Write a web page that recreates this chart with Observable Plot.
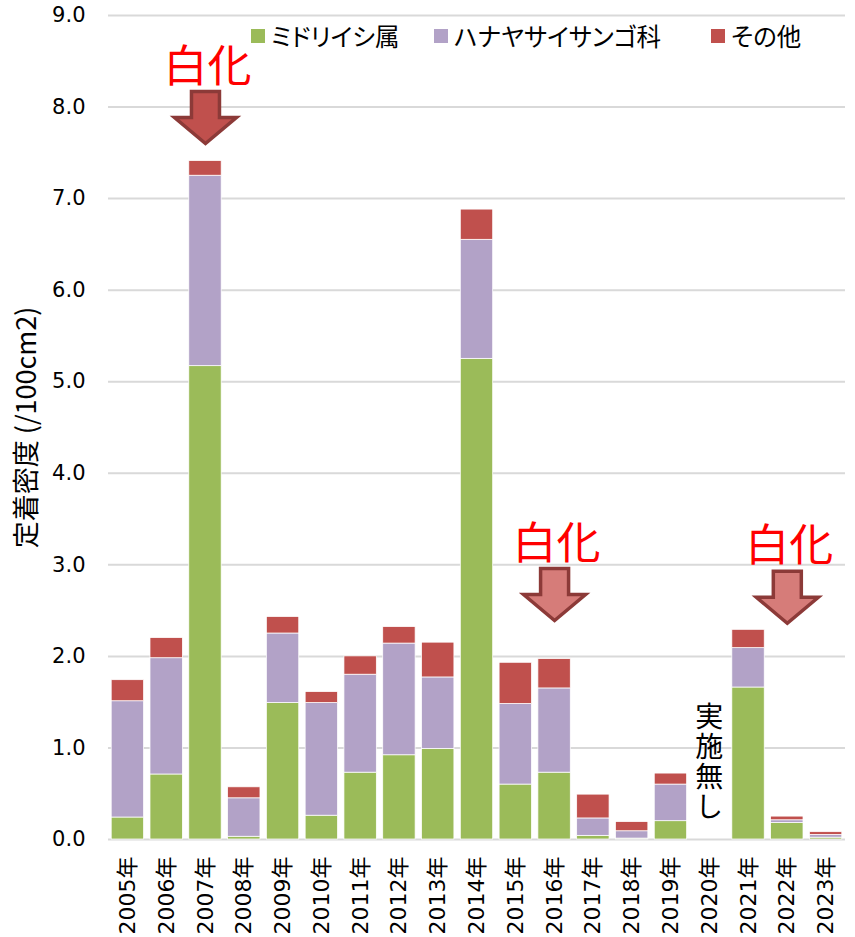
<!DOCTYPE html>
<html lang="ja">
<head>
<meta charset="utf-8">
<script src="https://cdn.jsdelivr.net/npm/d3@7"></script>
<script src="https://cdn.jsdelivr.net/npm/@observablehq/plot@0.6"></script>
<style>
  html, body { margin: 0; padding: 0; background: #fff; }
  #chart { position: relative; width: 855px; height: 937px; }
  #legend {
    position: absolute; top: 24px; left: 0; width: 855px; height: 30px;
    font-family: "Noto Sans CJK JP", sans-serif; font-size: 24.5px;
    font-feature-settings: "palt"; color: #000; line-height: 1;
  }
  #legend .item { position: absolute; top: 0; display: flex; align-items: center; gap: 6px; white-space: nowrap; }
  #legend .swatch { width: 14px; height: 14px; display: inline-block; }
  #no-survey {
    position: absolute; width: 30px; line-height: 30px;
    writing-mode: vertical-rl; text-orientation: upright;
    font-family: "Noto Sans CJK JP", sans-serif; font-size: 28px;
    letter-spacing: 2px; color: #000; white-space: nowrap;
  }
</style>
</head>
<body>
<div id="chart"></div>
<script>
// Settlement density of juvenile corals per survey year (/100cm2), split by group
const years = ["2005年","2006年","2007年","2008年","2009年","2010年","2011年","2012年","2013年","2014年",
               "2015年","2016年","2017年","2018年","2019年","2020年","2021年","2022年","2023年"];
const midoriishi = [0.24, 0.71, 5.17, 0.03, 1.49, 0.26, 0.73, 0.92, 0.99, 5.25,
                    0.60, 0.73, 0.04, 0.01, 0.20, null, 1.66, 0.18, 0.02];
const hanayasai  = [1.27, 1.27, 2.08, 0.42, 0.76, 1.23, 1.07, 1.22, 0.78, 1.30,
                    0.88, 0.92, 0.19, 0.08, 0.40, null, 0.43, 0.03, 0.03];
const others     = [0.23, 0.22, 0.16, 0.12, 0.18, 0.12, 0.20, 0.18, 0.38, 0.33,
                    0.45, 0.32, 0.26, 0.10, 0.12, null, 0.20, 0.04, 0.03];

const speciesNames = ["ミドリイシ属", "ハナヤサイサンゴ科", "その他"];
const speciesColors = ["#9BBB59", "#B2A2C7", "#C0504D"];

const yTicks = [0, 1, 2, 3, 4, 5, 6, 7, 8, 9];
const yTitle = "定着密度 (/100cm2)";

// Bleaching events, with the value where each arrow starts
const bleachYears = ["2007年", "2016年", "2022年"];
const bleachArrowTop = [8.17, 2.96, 2.93];
const bleachLabel = "白化";

const noSurveyYear = "2020年";
const noSurveyLabel = "実施無し";

// Long-format rows for the stacked bars
const values = [midoriishi, hanayasai, others];
const rows = [];
years.forEach((year, i) => {
  speciesNames.forEach((species, k) => {
    const v = values[k][i];
    if (v != null) rows.push({year, species, value: v});
  });
});

const bleach = bleachYears.map((year, i) => ({year, top: bleachArrowTop[i], first: i === 0}));

// Block arrow pointing along the vector direction
const blockArrow = {
  draw(context, l) {
    const shaft = 14, head = 31, headLen = 26;
    context.moveTo(-shaft, 0);
    context.lineTo(shaft, 0);
    context.lineTo(shaft, -(l - headLen));
    context.lineTo(head, -(l - headLen));
    context.lineTo(0, -l);
    context.lineTo(-head, -(l - headLen));
    context.lineTo(-shaft, -(l - headLen));
    context.closePath();
  }
};

const latinFont = "'DejaVu Sans', 'Noto Sans CJK JP', sans-serif";
const cjkFont = "'Noto Sans CJK JP', sans-serif";
const chartHeight = 937;

const chart = Plot.plot({
  width: 855,
  height: chartHeight,
  marginLeft: 108,
  marginRight: 10,
  marginTop: 15,
  marginBottom: 98,
  style: {fontFamily: latinFont, fontSize: "21px", color: "#000", background: "#fff", overflow: "visible"},
  x: {domain: years, paddingInner: 0.165, paddingOuter: 0.0825, round: false, axis: null},
  y: {domain: [0, 9], axis: null},
  color: {domain: speciesNames, range: speciesColors},
  marks: [
    Plot.ruleY(yTicks, {stroke: "#D9D9D9", strokeWidth: 2}),
    Plot.barY(rows, Plot.stackY({
      x: "year", y: "value", fill: "species", order: speciesNames,
      stroke: "#fff", strokeWidth: 0.75
    })),
    Plot.axisY({
      ticks: yTicks, tickSize: 0, tickPadding: 23, tickFormat: d3.format(".1f"),
      fontSize: 21, fontFamily: latinFont, fill: "#000", label: null
    }),
    Plot.axisX({
      tickRotate: -90, tickSize: 0, tickPadding: 17,
      fontSize: 22, fontFamily: latinFont, fill: "#000", label: null
    }),
    Plot.text([yTitle], {
      frameAnchor: "left", text: d => d, rotate: -90, dx: -81,
      textAnchor: "middle", lineAnchor: "middle",
      fontSize: 27, fontFamily: cjkFont, fill: "#000"
    }),
    Plot.vector(bleach, {
      x: "year", y: "top", anchor: "start", rotate: 180, length: 52,
      shape: blockArrow,
      fill: d => d.first ? "#C0504D" : "#D67C79",
      stroke: "#8C3A38", strokeWidth: 3.5, strokeLinejoin: "miter"
    }),
    Plot.text(bleach, {
      x: "year", y: "top", text: () => bleachLabel, dy: -24, dx: 2,
      lineAnchor: "middle", fontSize: 44, fontFamily: cjkFont, fill: "#FF0000"
    })
  ]
});

const root = document.getElementById("chart");
root.appendChild(chart);

// "No survey" note in vertical writing, placed through the chart's own scales
const xScale = chart.scale("x");
const yScale = chart.scale("y");
const note = document.createElement("div");
note.id = "no-survey";
note.textContent = noSurveyLabel;
const noteX = xScale.apply(noSurveyYear) + xScale.bandwidth / 2;
const noteBase = yScale.apply(0) - 17;
note.style.left = (noteX - 15) + "px";
note.style.bottom = (chartHeight - noteBase) + "px";
root.appendChild(note);

// Legend drawn over the top of the plot area
const legendLeft = [251, 434, 711];
const legend = document.createElement("div");
legend.id = "legend";
speciesNames.forEach((name, i) => {
  const item = document.createElement("span");
  item.className = "item";
  item.style.left = legendLeft[i] + "px";
  const sw = document.createElement("span");
  sw.className = "swatch";
  sw.style.background = speciesColors[i];
  const label = document.createElement("span");
  label.textContent = name;
  item.appendChild(sw);
  item.appendChild(label);
  legend.appendChild(item);
});
root.appendChild(legend);
</script>
</body>
</html>
